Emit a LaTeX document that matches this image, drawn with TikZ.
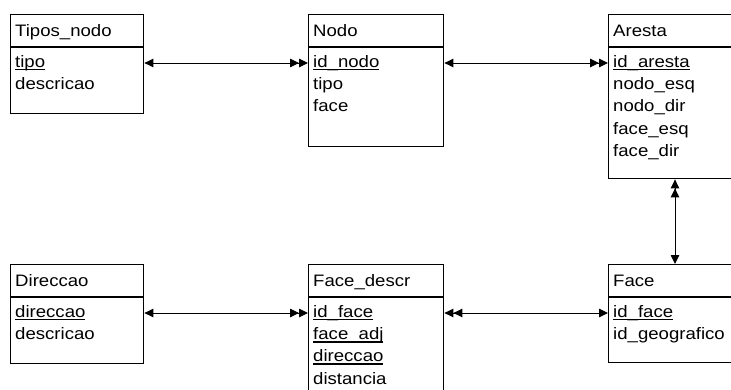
\documentclass[tikz,border=0pt]{standalone}
\usepackage{fontspec}
\setmainfont[FakeStretch=1.12]{Liberation Sans}
\usetikzlibrary{arrows.meta}

% underlined key attribute
\newcommand\keyfield[1]{\setbox0\hbox{#1}\rlap{\rule[-2.8pt]{\wd0}{1.4pt}}\box0}

\tikzset{
  tbl/.style={draw, line width=1.4pt, inner sep=0, anchor=north west},
  ttl/.style={anchor=base west, inner sep=0},
  fld/.style={anchor=base west, inner sep=0},
  link/.style={line width=0.9pt},
  hd/.tip={Triangle[length=9pt,width=8.5pt]},
  hdd/.tip={Triangle[length=9pt,width=8.5pt] Triangle[length=9pt,width=8.5pt]},
}

\begin{document}
\begin{tikzpicture}[x=1pt,y=-1pt,font=\fontsize{16.6}{22}\selectfont]
\useasboundingbox (0,0) rectangle (731,389);
\clip (0,0) rectangle (731,389);
\fill[white] (0,0) rectangle (731,389);

% ---- tables: frames and header rules ----
\node[tbl, minimum width=133pt, minimum height=99pt] (tipos) at (10,14) {};
\node[tbl, minimum width=135pt, minimum height=132pt] (nodo) at (308,14) {};
\node[tbl, minimum width=140pt, minimum height=164pt] (aresta) at (608,14) {};
\node[tbl, minimum width=133pt, minimum height=99pt] (direccao) at (10,264) {};
\node[tbl, minimum width=135pt, minimum height=140pt] (facedescr) at (308,264) {};
\node[tbl, minimum width=140pt, minimum height=98pt] (face) at (608,264) {};

\foreach \t in {tipos,nodo,aresta}
  \draw[line width=1.4pt] (\t.west |- 0,47) -- (\t.east |- 0,47);
\foreach \t in {direccao,facedescr,face}
  \draw[line width=1.4pt] (\t.west |- 0,297) -- (\t.east |- 0,297);

% ---- Tipos_nodo ----
\node[ttl] (tiposT) at (15,36.5) {Tipos\_nodo};
\node[fld] (tiposA) at (15,67.5) {\keyfield{tipo}};
\node[fld] (tiposB) at (15,89.7) {descricao};

% ---- Nodo ----
\node[ttl] (nodoT) at (313,36.5) {Nodo};
\node[fld] (nodoA) at (313,67.5) {\keyfield{id\_nodo}};
\node[fld] (nodoB) at (313,89.7) {tipo};
\node[fld] (nodoC) at (313,111.9) {face};

% ---- Aresta ----
\node[ttl] (arestaT) at (613,36.5) {Aresta};
\node[fld] (arestaA) at (613,67.5) {\keyfield{id\_aresta}};
\node[fld] (arestaB) at (613,89.7) {nodo\_esq};
\node[fld] (arestaC) at (613,111.9) {nodo\_dir};
\node[fld] (arestaD) at (613,134.1) {face\_esq};
\node[fld] (arestaE) at (613,156.3) {face\_dir};

% ---- Direccao ----
\node[ttl] (direccaoT) at (15,286.5) {Direccao};
\node[fld] (direccaoA) at (15,317.5) {\keyfield{direccao}};
\node[fld] (direccaoB) at (15,339.7) {descricao};

% ---- Face_descr ----
\node[ttl] (facedescrT) at (313,286.5) {Face\_descr};
\node[fld] (facedescrA) at (313,317.5) {\keyfield{id\_face}};
\node[fld] (facedescrB) at (313,339.7) {\keyfield{face\_adj}};
\node[fld] (facedescrC) at (313,361.9) {\keyfield{direccao}};
\node[fld] (facedescrD) at (313,384.1) {distancia};

% ---- Face ----
\node[ttl] (faceT) at (613,286.5) {Face};
\node[fld] (faceA) at (613,317.5) {\keyfield{id\_face}};
\node[fld] (faceB) at (613,339.7) {id\_geografico};

% ---- relationships ----
\draw[link, hd-hdd] (tipos.east |- 0,63) -- (nodo.west |- 0,63);
\draw[link, hd-hdd] (nodo.east |- 0,63) -- (aresta.west |- 0,63);
\draw[link, hd-hdd] (direccao.east |- 0,313) -- (facedescr.west |- 0,313);
\draw[link, hdd-hd] (facedescr.east |- 0,313) -- (face.west |- 0,313);
\draw[link, hdd-hd] (aresta.south -| 675,0) -- (face.north -| 675,0);
\end{tikzpicture}
\end{document}
